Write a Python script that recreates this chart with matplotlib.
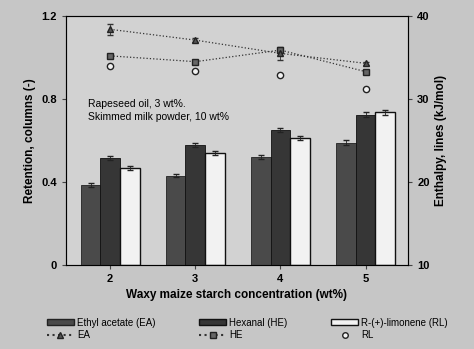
import numpy as np
import matplotlib.pyplot as plt
from matplotlib.lines import Line2D
from matplotlib.patches import Patch

conc = [2, 3, 4, 5]
ret_ea = [0.386, 0.43, 0.52, 0.59]
ret_he = [0.515, 0.578, 0.65, 0.725]
ret_rl = [0.467, 0.54, 0.61, 0.735]
ret_err = [0.008, 0.008, 0.01, 0.01]
enth_ea = [38.4, 37.1, 35.5, 34.3]
enth_he = [35.2, 34.5, 35.9, 33.3]
enth_rl = [34.0, 33.4, 32.9, 31.2]
enth_err_ea = [0.7, 0.2, 0.8, 0.2]

plt.rcParams['font.family'] = ['Liberation Sans', 'DejaVu Sans']
plt.rcParams['font.weight'] = 'bold'

bg = '#c6c6c6'
fig = plt.figure(figsize=(4.74, 3.49), dpi=100, facecolor=bg)
ax = fig.add_axes([0.139, 0.241, 0.722, 0.713])
ax.set_facecolor('#d2d2d2')

x = np.array(conc)
w = 0.23
ax.bar(x - w, ret_ea, w, yerr=ret_err, color='#4a4a4a', edgecolor='#222222', lw=0.6,
       error_kw=dict(lw=0.6, capsize=2, ecolor='#222222'), label='Ethyl acetate (EA)')
ax.bar(x, ret_he, w, yerr=ret_err, color='#363636', edgecolor='#111111', lw=0.6,
       error_kw=dict(lw=0.6, capsize=2, ecolor='#222222'), label='Hexanal (HE)')
ax.bar(x + w, ret_rl, w, yerr=ret_err, color='#f2f2f2', edgecolor='#111111', lw=1.0,
       error_kw=dict(lw=0.6, capsize=2, ecolor='#222222'), label='R-(+)-limonene (RL)')

ax.set_xlim(1.48, 5.5)
ax.set_ylim(0, 1.2)
ax.set_xticks(conc)
ax.set_yticks([0, 0.4, 0.8, 1.2])
ax.set_yticklabels(['0', '0.4', '0.8', '1.2'])
ax.tick_params(labelsize=8, length=3, color='#444444')
ax.set_ylabel('Retention, columns (-)', fontsize=8.5, fontweight='bold')
ax.set_xlabel('Waxy maize starch concentration (wt%)', fontsize=8.5, fontweight='bold')
for s in ax.spines.values():
    s.set_color('#555555')
    s.set_linewidth(0.8)

ax2 = ax.twinx()
ax2.errorbar(x, enth_ea, yerr=enth_err_ea, color='#333333', ls=':', lw=0.9, marker='^',
             ms=4, mfc='#555555', mec='#222222', capsize=2, elinewidth=0.6)
ax2.plot(x, enth_he, color='#333333', ls=':', lw=0.9, marker='s', ms=4,
         mfc='#666666', mec='#222222')
ax2.plot(x, enth_rl, ls='none', marker='o', ms=4.5, mfc='#f2f2f2', mec='#222222')
ax2.set_ylim(10, 40)
ax2.set_yticks([10, 20, 30, 40])
ax2.tick_params(labelsize=8, length=3, color='#444444')
ax2.set_ylabel('Enthalpy, lines (kJ/mol)', fontsize=8.5, fontweight='bold')

ax.text(0.065, 0.665, 'Rapeseed oil, 3 wt%.\nSkimmed milk powder, 10 wt%',
        transform=ax.transAxes, fontsize=7.5, fontweight='normal', va='top', linespacing=1.3)

handles = [Patch(facecolor='#4a4a4a', edgecolor='#222222'),
           Line2D([], [], color='#333333', ls=':', marker='^', ms=4, mfc='#555555', mec='#222222'),
           Patch(facecolor='#363636', edgecolor='#111111'),
           Line2D([], [], color='#333333', ls=':', marker='s', ms=4, mfc='#666666', mec='#222222'),
           Patch(facecolor='#f2f2f2', edgecolor='#111111'),
           Line2D([], [], ls='none', marker='o', ms=4, mfc='#f2f2f2', mec='#222222')]
labels = ['Ethyl acetate (EA)', 'EA', 'Hexanal (HE)', 'HE', 'R-(+)-limonene (RL)', 'RL']
leg = fig.legend(handles, labels, ncol=3, loc='lower left', bbox_to_anchor=(0.08, 0.0),
                 frameon=False, fontsize=7, handlelength=2.8, handleheight=0.6,
                 columnspacing=4.5, labelspacing=0.25, handletextpad=0.3)
for t in leg.get_texts():
    t.set_fontweight('normal')

fig.savefig('out.png', dpi=100, facecolor=bg)
